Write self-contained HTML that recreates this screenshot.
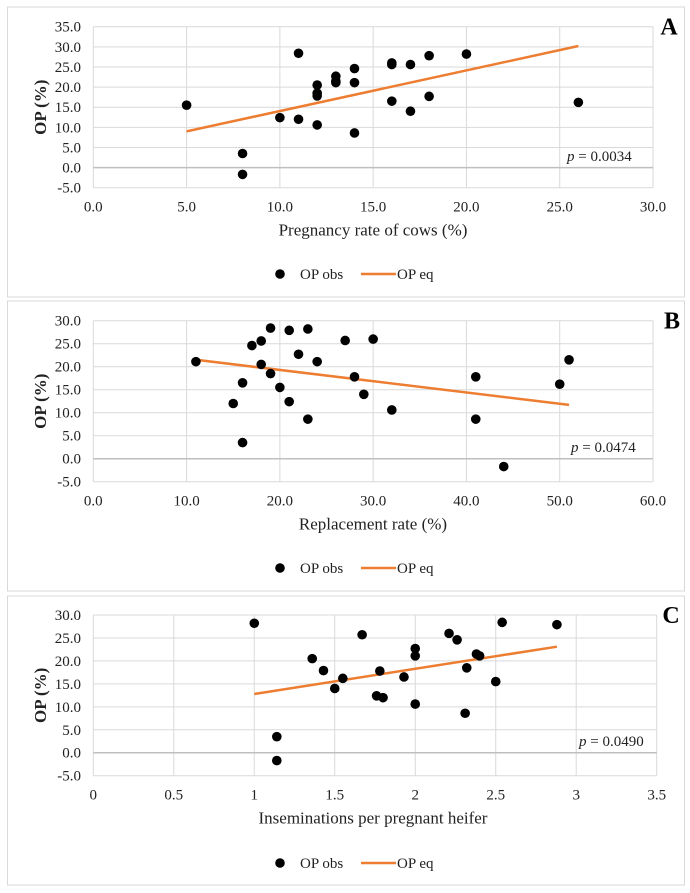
<!DOCTYPE html>
<html><head><meta charset="utf-8"><style>
html,body{margin:0;padding:0;background:#fff}
svg{display:block;font-family:"Liberation Serif",serif}
</style></head><body>
<svg id="s" width="690" height="893" viewBox="0 0 690 893"></svg>
<script>
const aX=[5,8,8,10,11,11,12,12,12,12,13,13,13,14,14,14,16,16,16,17,17,18,18,20,26];
const aY=[15.5,3.5,-1.7,12.4,28.4,12,20.5,18.5,17.8,10.6,22.7,21.5,21.1,24.6,21.1,8.6,26,25.6,16.5,25.6,14,27.8,17.7,28.2,16.2];
const aLineX=[5,26];const aLineY=[9.0,30.2];
const aXTicks=["0.0","5.0","10.0","15.0","20.0","25.0","30.0"];
const aYTicks=["-5.0","0.0","5.0","10.0","15.0","20.0","25.0","30.0","35.0"];
const bX=[11,15,16,16,17,18,18,19,19,20,21,21,22,23,23,24,27,28,29,30,32,41,41,44,50,51];
const bY=[21.1,12,16.5,3.5,24.6,25.6,20.5,28.4,18.5,15.5,27.9,12.4,22.7,28.2,8.6,21.1,25.7,17.8,14,26,10.6,17.8,8.6,-1.7,16.2,21.5];
const bLineX=[11,51];const bLineY=[21.5,11.7];
const bXTicks=["0.0","10.0","20.0","30.0","40.0","50.0","60.0"];
const bYTicks=["-5.0","0.0","5.0","10.0","15.0","20.0","25.0","30.0"];
const cX=[1,1.14,1.14,1.36,1.43,1.5,1.55,1.67,1.76,1.78,1.8,1.93,2,2,2,2.21,2.26,2.31,2.32,2.38,2.4,2.5,2.54,2.88];
const cY=[28.2,3.5,-1.7,20.5,17.9,14,16.2,25.7,12.4,17.8,12,16.5,22.7,21.1,10.6,26,24.6,8.6,18.5,21.5,21.1,15.5,28.4,27.9];
const cLineX=[1,2.88];const cLineY=[12.8,23.1];
const cXTicks=["0","0.5","1","1.5","2","2.5","3","3.5"];
const cYTicks=["-5.0","0.0","5.0","10.0","15.0","20.0","25.0","30.0"];

const NS="http://www.w3.org/2000/svg";
const svg=document.getElementById('s');
function mk(tag,attrs,parent,txt){const e=document.createElementNS(NS,tag);for(const k in attrs)e.setAttribute(k,attrs[k]);if(txt!==undefined)e.textContent=txt;parent.appendChild(e);return e;}

function panel(o){
  const g=mk('g',{},svg);
  
  
  const fr=mk('rect',{x:7.5,y:o.fy0,width:677,height:o.fy1-o.fy0,fill:'#fff',stroke:'#d9d9d9','stroke-width':1},g);
  
  const L=93.3,R=o.R;
  const xmin=parseFloat(o.xt[0]),xmax=parseFloat(o.xt[o.xt.length-1]);
  const ymin=parseFloat(o.yt[0]),ymax=parseFloat(o.yt[o.yt.length-1]);
  const sx=v=>L+(v-xmin)/(xmax-xmin)*(R-L);
  const sy=v=>o.B-(v-ymin)/(ymax-ymin)*(o.B-o.T);
  o.xt.forEach(t=>{const v=parseFloat(t);
    const ln=mk('line',{x1:sx(v),x2:sx(v),y1:o.T,y2:o.B,stroke:'#d9d9d9','stroke-width':1},g);
    
    const tx=mk('text',{x:sx(v),y:o.B+24,'text-anchor':'middle','font-size':15,fill:'#222'},g,t);
    });
  o.yt.forEach(t=>{const v=parseFloat(t);
    const ln=mk('line',{x1:L,x2:R,y1:sy(v),y2:sy(v),stroke:v===0?'#bfbfbf':'#d9d9d9','stroke-width':v===0?1.5:1},g);
    
    const tx=mk('text',{x:81,y:sy(v)+5,'text-anchor':'end','font-size':15,fill:'#222'},g,t);
    });
  const yl=mk('text',{x:0,y:0,transform:`translate(46,${(o.T+o.B)/2}) rotate(-90)`,'text-anchor':'middle','font-size':17,'font-weight':'bold',fill:'#222'},g,'OP (%)');
  
  const xl=mk('text',{x:373,y:o.B+48,'text-anchor':'middle','font-size':17,fill:'#222'},g,o.xtitle);
  
  const lt=mk('line',{x1:sx(o.lx[0]),y1:sy(o.ly[0]),x2:sx(o.lx[1]),y2:sy(o.ly[1]),stroke:'#ed7d31','stroke-width':2.5},g);
  
  o.xs.forEach((x,i)=>{const c=mk('circle',{cx:sx(x),cy:sy(o.ys[i]),r:4.8,fill:'#000'},g);
    });
  const pv=mk('text',{x:o.px,y:o.py,'font-size':15,fill:'#222'},g);
  
  mk('tspan',{'font-style':'italic'},pv,'p');mk('tspan',{},pv,' = '+o.p);
  const lb=mk('text',{x:o.lbx,y:o.T+8,'text-anchor':'middle','font-size':24,'font-weight':'bold',fill:'#000'},g,o.id);
  
  const lg=mk('g',{},g);
  const c1=mk('circle',{cx:280,cy:o.ly0,r:4.8,fill:'#000'},lg);
  const t1=mk('text',{x:300,y:o.ly0+5,'font-size':15,fill:'#222'},lg,'OP obs');
  const l2=mk('line',{x1:361,x2:396,y1:o.ly0,y2:o.ly0,stroke:'#ed7d31','stroke-width':2.5},lg);
  const t2=mk('text',{x:397,y:o.ly0+5,'font-size':15,fill:'#222'},lg,'OP eq');
}
panel({id:'A',fy0:7,fy1:297,T:26.7,B:187.7,R:653,xt:aXTicks,yt:aYTicks,xs:aX,ys:aY,lx:aLineX,ly:aLineY,xtitle:'Pregnancy rate of cows (%)',px:567,py:161,p:'0.0034',lbx:669,ly0:274});
panel({id:'B',fy0:301,fy1:591,T:320.7,B:481.7,R:653,xt:bXTicks,yt:bYTicks,xs:bX,ys:bY,lx:bLineX,ly:bLineY,xtitle:'Replacement rate (%)',px:571,py:452,p:'0.0474',lbx:672,ly0:568});
panel({id:'C',fy0:596,fy1:885,T:615,B:775.7,R:656.7,xt:cXTicks,yt:cYTicks,xs:cX,ys:cY,lx:cLineX,ly:cLineY,xtitle:'Inseminations per pregnant heifer',px:579,py:746,p:'0.0490',lbx:671,ly0:863});
</script>
</body></html>
